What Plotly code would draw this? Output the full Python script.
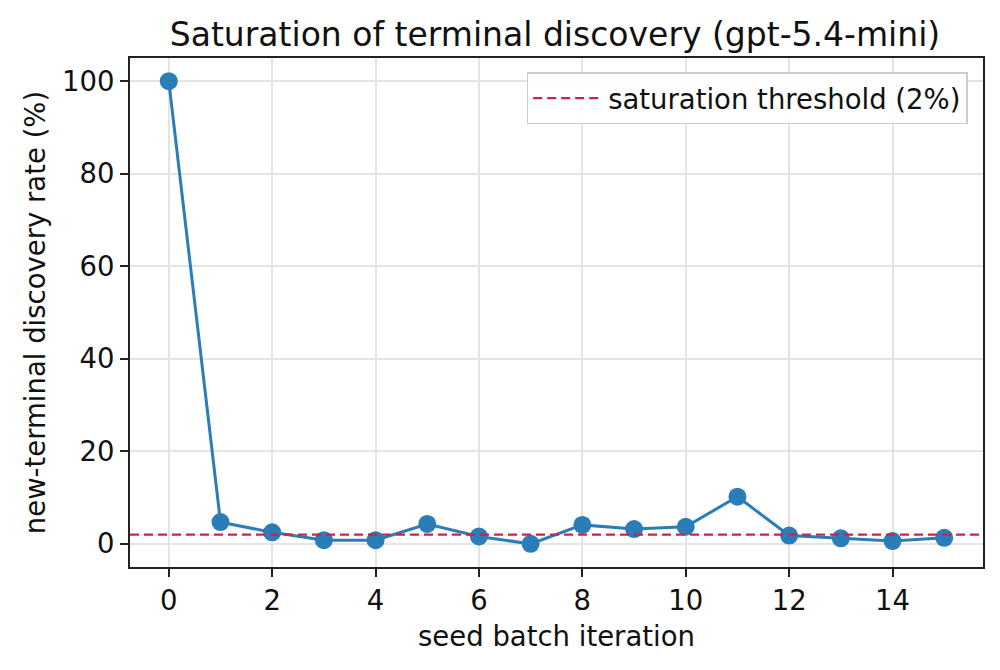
import plotly.graph_objects as go

iterations = list(range(16))
discovery_rate = [100.0, 4.7, 2.5, 0.8, 0.8, 4.3, 1.6, 0.0, 4.1, 3.2, 3.7, 10.2, 1.8, 1.2, 0.6, 1.3]
threshold = 2.0
x_ticks = [0, 2, 4, 6, 8, 10, 12, 14]
y_ticks = [0, 20, 40, 60, 80, 100]

FONT = "DejaVu Sans"
LBL = 27.5
fig = go.Figure()
fig.add_trace(go.Scatter(
    x=iterations, y=discovery_rate, mode="lines+markers",
    line=dict(color="#2a7db7", width=3),
    marker=dict(color="#2a7db7", size=18),
    showlegend=False,
))
fig.add_trace(go.Scatter(
    x=[-0.75, 15.75], y=[threshold, threshold], mode="lines",
    line=dict(color="#d0214a", width=2.2, dash="9px,5px"),
    name="saturation threshold (2%)",
))

axis_common = dict(
    showline=True, linecolor="#222222", linewidth=2, mirror=True,
    ticks="outside", ticklen=8, tickwidth=1.8, tickcolor="#222222",
    showgrid=True, gridcolor="#e4e4e4", gridwidth=1.5,
    zeroline=False, tickfont=dict(family=FONT, size=LBL, color="#111111"),
)
fig.update_xaxes(range=[-0.75, 15.75], tickvals=x_ticks,
                 title=dict(text="seed batch iteration", font=dict(family=FONT, size=LBL, color="#111111"), standoff=12),
                 **axis_common)
fig.update_yaxes(range=[-5, 105], tickvals=y_ticks,
                 title=dict(text="new-terminal discovery rate (%)", font=dict(family=FONT, size=LBL, color="#111111"), standoff=8),
                 **axis_common)

fig.update_layout(
    width=1000, height=670,
    margin=dict(l=130, r=17, t=58, b=103),
    paper_bgcolor="white", plot_bgcolor="white",
    title=dict(text="Saturation of terminal discovery (gpt-5.4-mini)",
               font=dict(family=FONT, size=33, color="#111111"),
               x=0.555, xanchor="center", y=0.948, yanchor="middle"),
    legend=dict(x=0.982, y=0.972, xanchor="right", yanchor="top",
                bgcolor="rgba(255,255,255,0.9)", bordercolor="#cccccc", borderwidth=1.5,
                itemwidth=70,
                font=dict(family=FONT, size=LBL, color="#111111")),
)

fig.write_html("out.html")
